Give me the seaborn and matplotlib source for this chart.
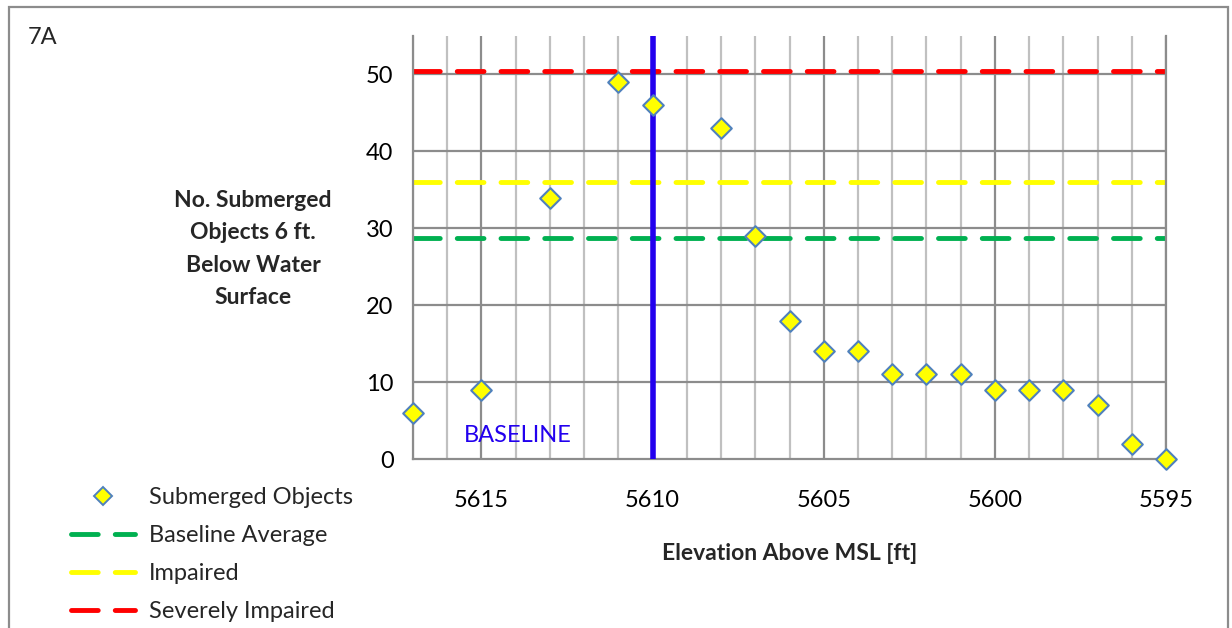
import matplotlib
matplotlib.use("Agg")
import matplotlib.pyplot as plt
import seaborn as sns
import pandas as pd
from matplotlib.patches import Rectangle
from matplotlib.lines import Line2D

elevation = [5617, 5615, 5613, 5611, 5610, 5608, 5607, 5606, 5605, 5604,
             5603, 5602, 5601, 5600, 5599, 5598, 5597, 5596, 5595]
objects = [6, 9, 34, 49, 46, 43, 29, 18, 14, 14, 11, 11, 11, 9, 9, 9, 7, 2, 0]
baseline_avg = 28.8
impaired = 36.0
severely = 50.4
baseline_elev = 5610
x_ticks = [5615, 5610, 5605, 5600, 5595]
y_ticks = [0, 10, 20, 30, 40, 50]

sns.set_style("white")
plt.rcParams['font.family'] = ['Lato', 'DejaVu Sans']

fig = plt.figure(figsize=(12.32, 6.28), dpi=100)
ax = fig.add_axes([413/1232, 1-459/628, (1166-413)/1232, (459-36)/628])

df = pd.DataFrame({"Elevation": elevation, "Objects": objects})

ax.set_xlim(5617, 5595)
ax.set_ylim(0, 55)

# grid
for xv in range(5595, 5618):
    col = '#8c8c8c' if xv in x_ticks else '#c0c0c0'
    ax.axvline(xv, color=col, lw=1.6, zorder=0)
for yv in y_ticks[1:]:
    ax.axhline(yv, color='#8c8c8c', lw=1.6, zorder=0)

dash = (5.5, 3.5)
ax.axhline(baseline_avg, color='#00B050', lw=3.5, dashes=dash, dash_capstyle='round', zorder=2)
ax.axhline(impaired, color='#FFFF00', lw=3.5, dashes=dash, dash_capstyle='round', zorder=2)
ax.axhline(severely, color='#FF0000', lw=3.5, dashes=dash, dash_capstyle='round', zorder=2)
ax.axvline(baseline_elev, color='#2200EE', lw=4, zorder=3, solid_capstyle='round')

sns.scatterplot(data=df, x="Elevation", y="Objects", marker='D', s=110,
                color='#FFFF00', edgecolor='#4F81BD', linewidth=1.5, zorder=5,
                ax=ax, legend=False, clip_on=False)

ax.text(5613.95, 3.0, "BASELINE", color='#2200EE', fontsize=17, ha='center', va='center')

ax.set_xticks(x_ticks)
ax.set_yticks(y_ticks)
ax.tick_params(axis='both', labelsize=17, colors='black', length=6, color='#8c8c8c', width=1.2)
ax.tick_params(axis='x', pad=16)
ax.tick_params(axis='y', pad=8)
ax.set_xlabel("")
ax.set_ylabel("")

for s in ['top']:
    ax.spines[s].set_visible(False)
for s in ['left', 'bottom', 'right']:
    ax.spines[s].set_color('#8c8c8c')
    ax.spines[s].set_linewidth(1.6)

fig.text(790/1232, 1-553/628, "Elevation Above MSL [ft]", fontsize=16.5, fontweight='bold',
         ha='center', va='center')
fig.text(253/1232, 1-249/628, "No. Submerged\nObjects 6 ft.\nBelow Water\nSurface", fontsize=16.5,
         fontweight='bold', ha='center', va='center', linespacing=1.68)
fig.text(28/1232, 1-38/628, "7A", fontsize=17, ha='left', va='center')

handles = [
    Line2D([], [], marker='D', ls='none', markersize=9, markerfacecolor='#FFFF00',
           markeredgecolor='#4F81BD', markeredgewidth=1.4),
    Line2D([], [], color='#00B050', lw=3.5, dashes=(5.5, 3.5), dash_capstyle='round'),
    Line2D([], [], color='#FFFF00', lw=3.5, dashes=(5.5, 3.5), dash_capstyle='round'),
    Line2D([], [], color='#FF0000', lw=3.5, dashes=(5.5, 3.5), dash_capstyle='round'),
]
labels = ["Submerged Objects", "Baseline Average", "Impaired", "Severely Impaired"]
fig.legend(handles, labels, loc='upper left', bbox_to_anchor=(62/1232, 1-478/628),
           frameon=False, fontsize=17, handlelength=2.7, labelspacing=0.72, handletextpad=0.6,
           borderaxespad=0)

fig.add_artist(Rectangle((9/1232, -0.05), (1228-9)/1232, 1.05 - 7/628,
                         transform=fig.transFigure, fill=False, edgecolor='#8c8c8c', lw=1.6))

fig.savefig("out.png", dpi=100)
